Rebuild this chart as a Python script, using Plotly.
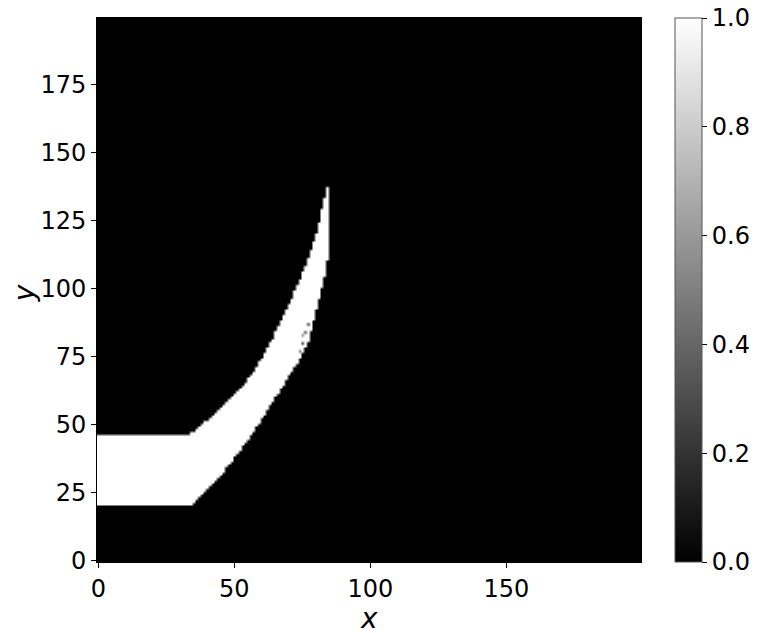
import numpy as np
import plotly.graph_objects as go

# grid size (pixels of the field)
nx, ny = 200, 200

# rectangular inlet part: columns 0..33, rows 21..46
rect_cols = list(range(0, 34))
rect_lo = 21
rect_hi = 46

# curved band, columns 34..84: lower / upper row of the white region
band_cols = list(range(34, 85))
band_lo = [21, 22, 23, 24, 25, 26, 27, 28, 29, 30, 31, 32, 33, 35, 36, 37, 39,
           40, 41, 43, 44, 45, 47, 48, 50, 51, 53, 54, 56, 58, 59, 61, 62, 64,
           65, 67, 69, 70, 72, 73, 75, 77, 79, 81, 85, 89, 93, 97, 101, 105, 111]
band_hi = [47, 47, 48, 49, 50, 51, 51, 52, 53, 54, 55, 56, 57, 58, 59, 60, 61,
           62, 63, 64, 65, 67, 68, 69, 71, 73, 74, 76, 78, 80, 81, 84, 86, 88,
           90, 92, 94, 96, 99, 101, 103, 106, 108, 111, 114, 117, 120, 124, 129,
           133, 137]

# small grey specks on the ragged lower edge (x, y, value)
speck_x = [74, 75, 76, 77, 75]
speck_y = [77, 80, 84, 87, 83]
speck_v = [0.5, 0.3, 0.4, 0.35, 0.6]

# colorbar ticks
cb_vals = [0, 0.2, 0.4, 0.6, 0.8, 1.0]

assert len(band_cols) == len(band_lo) == len(band_hi)

z = np.zeros((ny, nx))
for c in rect_cols:
    z[rect_lo:rect_hi + 1, c] = 1.0
for c, lo, hi in zip(band_cols, band_lo, band_hi):
    z[lo:hi + 1, c] = 1.0
for sx, sy, sv in zip(speck_x, speck_y, speck_v):
    z[sy, sx] = sv

font = dict(family="DejaVu Sans", size=24, color="black")
title_font = dict(family="DejaVu Sans", size=28, color="black")

fig = go.Figure(go.Heatmap(
    z=z,
    x=np.arange(nx),
    y=np.arange(ny),
    zmin=0, zmax=1,
    zsmooth="best",
    colorscale=[[0, "black"], [1, "white"]],
    colorbar=dict(
        x=1.0625, xanchor="left", xpad=0,
        y=0.5, yanchor="middle", len=1, lenmode="fraction", ypad=0,
        thickness=27, thicknessmode="pixels",
        outlinecolor="#555", outlinewidth=1,
        tickvals=cb_vals, tickformat=".1f",
        ticklabeloverflow="allow",
        ticks="outside", ticklen=5, tickcolor="black",
        tickfont=font,
    ),
    hoverinfo="skip",
))

fig.update_layout(
    width=750, height=625,
    margin=dict(l=89, r=117, t=10, b=71, autoexpand=False),
    paper_bgcolor="white",
    plot_bgcolor="black",
    font=font,
    annotations=[
        dict(text="<i>x</i>", xref="paper", yref="paper", x=0.5, y=-0.103,
             xanchor="center", yanchor="middle", showarrow=False, font=title_font),
        dict(text="<i>y</i>", xref="paper", yref="paper", x=-0.134, y=0.494,
             xanchor="center", yanchor="middle", showarrow=False, textangle=-90,
             font=title_font),
    ],
)
fig.update_xaxes(
    range=[-0.5, 199.5],
    tickvals=[0, 50, 100, 150],
    ticks="outside", ticklen=5, tickcolor="black",
    showgrid=False, zeroline=False, automargin=False,
    showline=True, linecolor="black", mirror=True,
    tickfont=font,
)
fig.update_yaxes(
    range=[-0.5, 199.5],
    tickvals=[0, 25, 50, 75, 100, 125, 150, 175],
    ticks="outside", ticklen=5, tickcolor="black",
    showgrid=False, zeroline=False, automargin=False,
    showline=True, linecolor="black", mirror=True,
    tickfont=font,
)

fig.write_html("out.html")
